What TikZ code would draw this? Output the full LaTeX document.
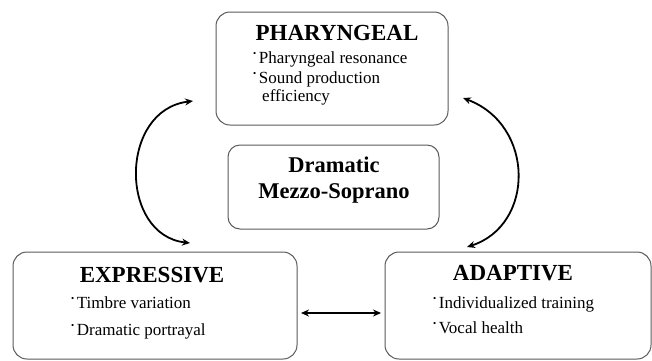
\documentclass[tikz,border=0pt]{standalone}
\usepackage{fontspec}
\setmainfont{Liberation Serif}
\usetikzlibrary{arrows.meta}
\newcommand\bul{\raisebox{6.2pt}{\fontsize{9}{9}\selectfont\textbullet}\hspace{2.5pt}}
\begin{document}
\begin{tikzpicture}[x=1pt,y=-1pt,
  box/.style={draw=black!65,line width=1pt,rounded corners=14pt,inner sep=0pt},
  ttl/.style={font=\fontsize{23}{23}\selectfont\bfseries,anchor=base,inner sep=0pt},
  ctr/.style={font=\fontsize{22.5}{22.5}\selectfont\bfseries,anchor=base,inner sep=0pt},
  itm/.style={font=\fontsize{17}{17}\selectfont,anchor=base west,inner sep=0pt},
  arr/.style={line width=1.8pt,{Stealth[length=8pt,width=7pt]}-{Stealth[length=8pt,width=7pt]}}]
\useasboundingbox (0,0) rectangle (652,360);
% boxes
\node[box,minimum width=232pt,minimum height=113pt] (phar) at (332,68.5) {};
\node[box,minimum width=211pt,minimum height=84pt,rounded corners=12pt] (dms) at (333.5,187) {};
\node[box,minimum width=284pt,minimum height=107pt] (expr) at (155,305.5) {};
\node[box,minimum width=266pt,minimum height=107pt] (adap) at (518,305.5) {};
% texts
\node[ttl] (pt) at (337,40) {PHARYNGEAL};
\node[itm] (p1) at (253,63) {\bul Pharyngeal resonance};
\node[itm] (p2) at (253,83) {\bul Sound production};
\node[itm] (p3) at (262,101) {efficiency};
\node[ctr] (d1) at (334,172) {Dramatic};
\node[ctr] (d2) at (334,198) {Mezzo-Soprano};
\node[ttl] (et) at (152,282) {EXPRESSIVE};
\node[itm] (e1) at (71,308) {\bul Timbre variation};
\node[itm] (e2) at (71,335) {\bul Dramatic portrayal};
\node[ttl] (at) at (513,280) {ADAPTIVE};
\node[itm] (a1) at (433,308) {\bul Individualized training};
\node[itm] (a2) at (433,333) {\bul Vocal health};
% connector ends
\coordinate (l1) at (193,101);
\coordinate (l2) at (190,243);
\coordinate (r1) at (463,98);
\coordinate (r2) at (467,247);
\coordinate (h1) at (301,313);
\coordinate (h2) at (381,313);
\draw[arr] (l1) .. controls (119,110) and (119,235) .. (l2);
\draw[arr] (r1) .. controls (535,125) and (535,225) .. (r2);
\draw[arr] (h1) -- (h2);
\end{tikzpicture}
\end{document}
